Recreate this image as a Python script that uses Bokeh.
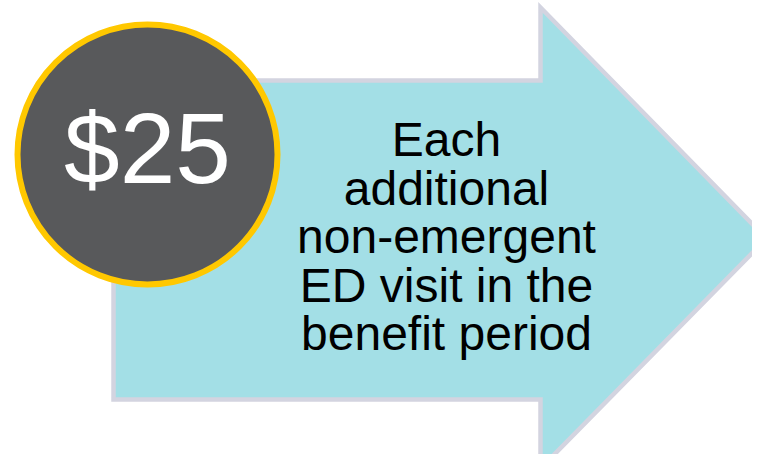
from bokeh.plotting import figure
from bokeh.models import Range1d
from bokeh.core.properties import value
from bokeh.embed import file_html
from bokeh.resources import INLINE

price_label = ["$25"]
desc_lines = ["Each", "additional", "non-emergent", "ED visit in the", "benefit period"]

W, H = 752, 454
p = figure(width=W, height=H, output_backend="svg", toolbar_location=None,
           x_range=Range1d(0, W), y_range=Range1d(H, 0),
           min_border=0, background_fill_color="white", border_fill_color="white")
p.axis.visible = False
p.grid.visible = False
p.outline_line_color = None

# arrow
ax = [113, 540, 540, 766, 540, 540, 113]
ay = [80, 80, 7, 238, 468, 399, 399]
p.patch(ax, ay, fill_color="#A3DFE6", line_color="#D3D4E0", line_width=4.5, line_join="miter")

# circle
p.circle(x=[147], y=[154], radius=130, fill_color="#58595B", line_color="#FFC800", line_width=6)

p.text(x=[147], y=[147], text=price_label, text_color="white", text_font=value("Liberation Sans"),
       text_font_size="100px", text_align="center", text_baseline="alphabetic")

ys = [139 + 48.5 * i for i in range(len(desc_lines))]
p.text(x=[446] * len(desc_lines), y=ys, text=desc_lines, text_color="black",
       text_font=value("Liberation Sans"), text_font_size="48px",
       text_align="center", text_baseline="alphabetic")

open("out.html", "w").write(file_html(p, INLINE))
